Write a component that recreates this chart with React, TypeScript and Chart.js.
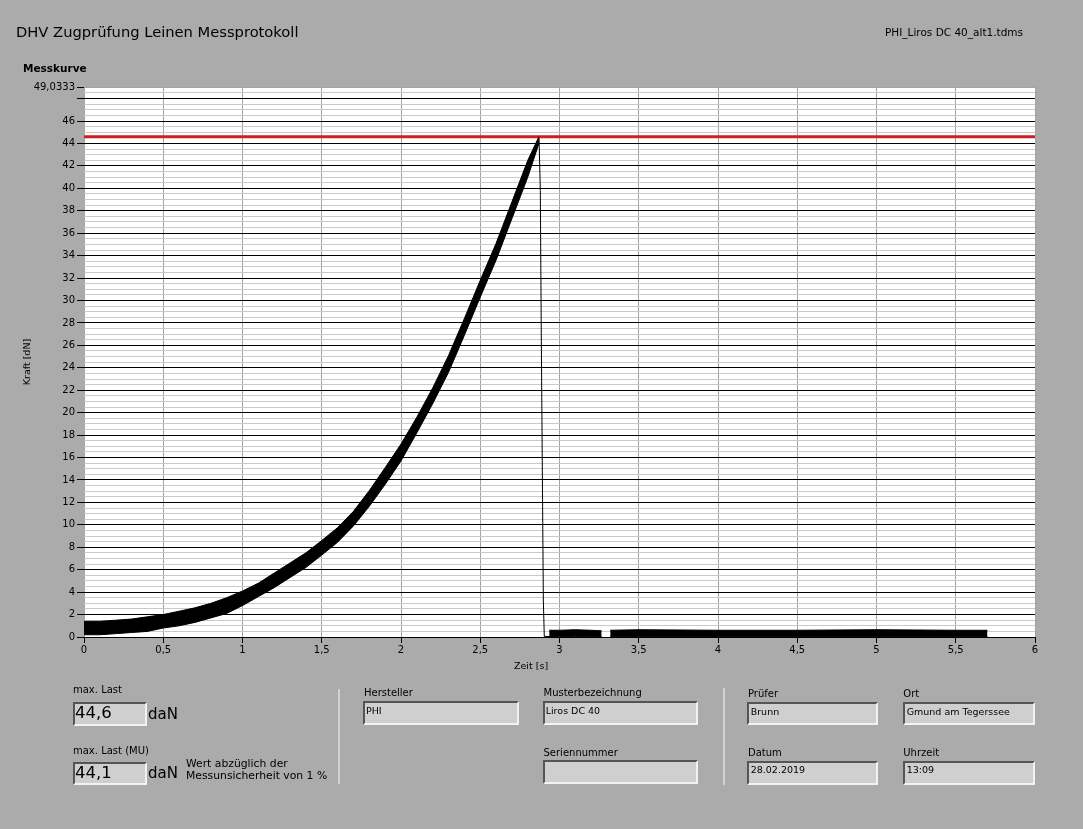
import React, { useEffect, useRef } from "react";
import { Chart, registerables } from "chart.js";

Chart.register(...registerables);

// ---------- data ----------
const riseTime = [0, 0.1, 0.2, 0.3, 0.4, 0.5, 0.6, 0.7, 0.8, 0.9, 1.0, 1.1, 1.2, 1.3, 1.4, 1.5, 1.6, 1.7, 1.8, 1.9, 2.0, 2.1, 2.2, 2.3, 2.4, 2.5, 2.6, 2.7, 2.8, 2.87];
const riseLower = [0.2, 0.2, 0.3, 0.4, 0.5, 0.8, 1.0, 1.3, 1.7, 2.1, 2.8, 3.6, 4.4, 5.3, 6.2, 7.3, 8.45, 9.9, 11.65, 13.6, 15.7, 18.2, 20.8, 23.6, 26.9, 30.3, 33.6, 37.3, 41.0, 44.0];
const riseUpper = [1.4, 1.4, 1.5, 1.6, 1.8, 2.0, 2.3, 2.6, 3.0, 3.5, 4.1, 4.8, 5.7, 6.6, 7.5, 8.6, 9.75, 11.2, 13.05, 15.1, 17.2, 19.6, 22.2, 25.1, 28.4, 31.8, 35.1, 38.8, 42.5, 44.6];

const dropTime = [2.871, 2.879, 2.885, 2.898, 2.904, 2.94];
const dropForce = [44.5, 39.8, 27.1, 3.3, 0.05, 0.05];

const tailATime = [2.935, 3.0, 3.1, 3.2, 3.266];
const tailALower = [0.05, 0.05, 0.05, 0.05, 0.05];
const tailAUpper = [0.6, 0.6, 0.65, 0.6, 0.55];

const tailBTime = [3.32, 3.5, 4.0, 4.5, 5.0, 5.5, 5.7];
const tailBLower = [0.05, 0.05, 0.05, 0.05, 0.05, 0.05, 0.05];
const tailBUpper = [0.6, 0.65, 0.6, 0.6, 0.65, 0.6, 0.6];

const maxLoad = 44.6;
const xMin = 0;
const xMax = 6;
const xTickValues = [0, 0.5, 1, 1.5, 2, 2.5, 3, 3.5, 4, 4.5, 5, 5.5, 6];
const xTickLabels = ["0", "0,5", "1", "1,5", "2", "2,5", "3", "3,5", "4", "4,5", "5", "5,5", "6"];
const yMajorValues = [0, 2, 4, 6, 8, 10, 12, 14, 16, 18, 20, 22, 24, 26, 28, 30, 32, 34, 36, 38, 40, 42, 44, 46, 48];
const yMajorLabels = ["0", "2", "4", "6", "8", "10", "12", "14", "16", "18", "20", "22", "24", "26", "28", "30", "32", "34", "36", "38", "40", "42", "44", "46", ""];
const yTop = 49.0333;
const yTopLabel = "49,0333";
const yMinorStep = 0.5;

const FONT = "'DejaVu Sans', Verdana, sans-serif";

const pts = (xs: number[], ys: number[]) => xs.map((x, i) => ({ x, y: ys[i] }));

function Text({ x, baseline, size, bold, children }: any) {
  return (
    <div
      style={{
        position: "absolute",
        left: x,
        top: baseline - 0.846 * size,
        fontSize: size,
        lineHeight: `${size}px`,
        fontFamily: FONT,
        fontWeight: bold ? "bold" : "normal",
        whiteSpace: "nowrap",
        color: "#000",
      }}
    >
      {children}
    </div>
  );
}

function Box({ x, y, w, h }: any) {
  return (
    <div
      style={{
        position: "absolute",
        left: x,
        top: y,
        width: w,
        height: h,
        boxSizing: "border-box",
        background: "#cfcfcf",
        borderTop: "2px solid #555",
        borderLeft: "2px solid #555",
        borderBottom: "2px solid #f2f2f2",
        borderRight: "2px solid #f2f2f2",
      }}
    />
  );
}

const plotBg = {
  id: "plotBg",
  beforeDraw(chart: any) {
    const { ctx, chartArea } = chart;
    ctx.save();
    ctx.fillStyle = "#ffffff";
    ctx.fillRect(chartArea.left, chartArea.top, chartArea.right - chartArea.left, chartArea.bottom - chartArea.top);
    ctx.restore();
  },
};

export default function App() {
  const ref = useRef<HTMLCanvasElement>(null);

  useEffect(() => {
    const band = { borderColor: "#000", borderWidth: 1, pointRadius: 0, tension: 0 };
    const chart = new Chart(ref.current as HTMLCanvasElement, {
      type: "line",
      data: {
        datasets: [
          { ...band, data: pts(riseTime, riseLower), fill: false },
          { ...band, data: pts(riseTime, riseUpper), fill: "-1", backgroundColor: "#000" },
          { ...band, data: pts(tailATime, tailALower), fill: false },
          { ...band, data: pts(tailATime, tailAUpper), fill: "-1", backgroundColor: "#000" },
          { ...band, data: pts(tailBTime, tailBLower), fill: false },
          { ...band, data: pts(tailBTime, tailBUpper), fill: "-1", backgroundColor: "#000" },
          { ...band, data: pts(dropTime, dropForce), fill: false },
          {
            data: [
              { x: xMin, y: maxLoad },
              { x: xMax, y: maxLoad },
            ],
            borderColor: "#cc1f1f",
            borderWidth: 3,
            pointRadius: 0,
            fill: false,
          },
        ],
      } as any,
      options: {
        animation: false,
        responsive: false,
        events: [],
        layout: { padding: { left: 0, top: 87, right: 48, bottom: 149 } },
        plugins: { legend: { display: false }, tooltip: { enabled: false } },
        scales: {
          x: {
            type: "linear",
            min: xMin,
            max: xMax,
            afterBuildTicks: (s: any) => {
              s.ticks = xTickValues.map((v) => ({ value: v }));
            },
            afterFit: (s: any) => {
              s.height = 43;
            },
            ticks: {
              autoSkip: false,
              maxRotation: 0,
              padding: 1,
              color: "#000",
              font: { family: FONT, size: 10 },
              callback: (v: any) => {
                const i = xTickValues.indexOf(Number(v));
                return i >= 0 ? xTickLabels[i] : "";
              },
            },
            grid: { color: "#a3a3a3", lineWidth: 1, tickLength: 6, tickColor: "#000" },
            border: { display: false },
          },
          y: {
            type: "linear",
            min: 0,
            max: yTop,
            afterBuildTicks: (s: any) => {
              const t: any[] = [];
              for (let v = 0; v <= yTop; v += yMinorStep) t.push({ value: v });
              t.push({ value: yTop });
              s.ticks = t;
            },
            afterFit: (s: any) => {
              s.width = 84;
            },
            ticks: {
              autoSkip: false,
              padding: 2,
              color: "#000",
              font: { family: FONT, size: 10 },
              callback: (v: any) => {
                const n = Number(v);
                if (Math.abs(n - yTop) < 1e-6) return yTopLabel;
                const i = yMajorValues.indexOf(n);
                return i >= 0 ? yMajorLabels[i] : "";
              },
            },
            grid: {
              lineWidth: 1,
              tickLength: 7,
              color: (c: any) => {
                const v = c.tick ? c.tick.value : 0;
                if (Math.abs(v - yTop) < 1e-6) return "#a3a3a3";
                return yMajorValues.indexOf(v) >= 0 ? "#000" : "#cacaca";
              },
              tickColor: (c: any) => {
                const v = c.tick ? c.tick.value : 0;
                if (Math.abs(v - yTop) < 1e-6) return "#000";
                return yMajorValues.indexOf(v) >= 0 ? "#000" : "rgba(0,0,0,0)";
              },
            },
            border: { display: false },
            title: {
              display: true,
              text: "Kraft [dN]",
              color: "#000",
              font: { family: FONT, size: 9.5 },
              padding: { top: 22, bottom: 0 },
            },
          },
        },
      } as any,
      plugins: [plotBg],
    });
    return () => chart.destroy();
  }, []);

  return (
    <div
      style={{
        position: "fixed",
        left: 0,
        top: 0,
        width: 1083,
        height: 829,
        background: "#ababab",
        overflow: "hidden",
      }}
    >
      <canvas ref={ref} width={1083} height={829} style={{ position: "absolute", left: 0, top: 0, width: 1083, height: 829 }} />

      <Text x={16} baseline={37.5} size={14.7}>DHV Zugprüfung Leinen Messprotokoll</Text>
      <Text x={885} baseline={36} size={10.5}>PHI_Liros DC 40_alt1.tdms</Text>
      <Text x={23} baseline={71.7} size={10.5} bold>Messkurve</Text>
      <Text x={514} baseline={669} size={9.5}>Zeit [s]</Text>

      <Text x={73} baseline={693.3} size={10}>max. Last</Text>
      <Box x={73} y={702} w={74} h={24} />
      <Text x={75} baseline={719.3} size={16.5}>44,6</Text>
      <Text x={148} baseline={719.3} size={15}>daN</Text>

      <Text x={73} baseline={754} size={10}>max. Last (MU)</Text>
      <Box x={73} y={762} w={74} h={23} />
      <Text x={75} baseline={779} size={16.5}>44,1</Text>
      <Text x={148} baseline={779} size={15}>daN</Text>
      <Text x={186} baseline={768.3} size={10.8}>Wert abzüglich der</Text>
      <Text x={186} baseline={780} size={10.8}>Messunsicherheit von 1 %</Text>

      <div style={{ position: "absolute", left: 338, top: 689, width: 2, height: 95, background: "#d2d2d2" }} />
      <div style={{ position: "absolute", left: 723, top: 688, width: 2, height: 97, background: "#d2d2d2" }} />

      <Text x={364} baseline={696.7} size={10}>Hersteller</Text>
      <Box x={363} y={701} w={156} h={24} />
      <Text x={366} baseline={714} size={9.5}>PHI</Text>

      <Text x={543.5} baseline={696.7} size={10}>Musterbezeichnung</Text>
      <Box x={543} y={701} w={155} h={24} />
      <Text x={545.7} baseline={714} size={9.5}>Liros DC 40</Text>

      <Text x={543.5} baseline={756} size={10}>Seriennummer</Text>
      <Box x={543} y={760} w={155} h={24} />

      <Text x={748} baseline={697} size={10}>Prüfer</Text>
      <Box x={747} y={702} w={131} h={23} />
      <Text x={750.7} baseline={715} size={9.5}>Brunn</Text>

      <Text x={903.3} baseline={697} size={10}>Ort</Text>
      <Box x={903} y={702} w={132} h={23} />
      <Text x={906.7} baseline={715} size={9.5}>Gmund am Tegerssee</Text>

      <Text x={748} baseline={756} size={10}>Datum</Text>
      <Box x={747} y={761} w={131} h={24} />
      <Text x={750.7} baseline={773.3} size={9.5}>28.02.2019</Text>

      <Text x={903.3} baseline={756} size={10}>Uhrzeit</Text>
      <Box x={903} y={761} w={132} h={24} />
      <Text x={906.7} baseline={773.3} size={9.5}>13:09</Text>
    </div>
  );
}
